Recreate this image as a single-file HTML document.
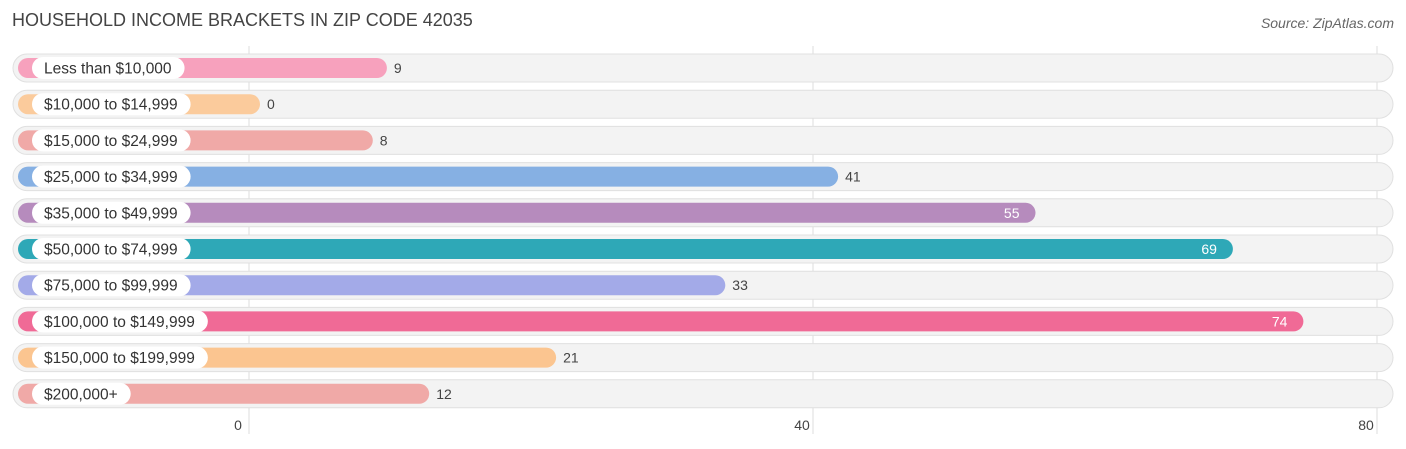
<!DOCTYPE html>
<html><head><meta charset="utf-8"><style>
body{margin:0;background:#fff;font-family:"Liberation Sans",sans-serif;}
svg{display:block}
</style></head><body>
<svg id="c" width="1406" height="449">
<text x="12" y="26" font-size="18" fill="#444">HOUSEHOLD INCOME BRACKETS IN ZIP CODE 42035</text>
<text x="1394" y="28" font-size="14" fill="#666" font-style="italic" text-anchor="end">Source: ZipAtlas.com</text>
<g id="grid"></g><g id="rows"></g>
</svg>
<script>
const categories=["Less than $10,000","$10,000 to $14,999","$15,000 to $24,999","$25,000 to $34,999","$35,000 to $49,999","$50,000 to $74,999","$75,000 to $99,999","$100,000 to $149,999","$150,000 to $199,999","$200,000+"];
const values=[9,0,8,41,55,69,33,74,21,12];
const colors=["#f7a1bd","#fbcb9c","#f0a9a7","#86b0e3","#b68bbd","#2ea8b7","#a3aae8","#f06a96","#fbc590","#f0a9a7"];
const ticks=[0,40,80];
const NS="http://www.w3.org/2000/svg";
const x=v=>249+v*14.1;
const rowY=i=>68+i*36.2;
function mk(t,a,p){const e=document.createElementNS(NS,t);for(const k in a)e.setAttribute(k,a[k]);p.appendChild(e);return e;}
const grid=document.getElementById('grid'),rows=document.getElementById('rows');
ticks.forEach(t=>{
 const l=mk('line',{x1:x(t),x2:x(t),y1:46,y2:434,stroke:'#ddd','stroke-width':1},grid);
 
 
 const tx=mk('text',{x:x(t)-11,y:430,'font-size':14,fill:'#444','text-anchor':'middle'},grid);
 tx.textContent=t;
 
 
});
categories.forEach((c,i)=>{
 const cy=rowY(i),v=values[i];
 const g=mk('g',{},rows);
 
 
 const bg=mk('rect',{x:13,y:cy-14,width:1380,height:28,rx:14,fill:'#f3f3f3',stroke:'#e0e0e0'},g);
 
 
 const end=x(v)+11;
 const b=mk('rect',{x:18,y:cy-10,width:end-18,height:20,rx:10,fill:colors[i]},g);
 
 
 const lp=mk('rect',{x:32,y:cy-11,width:100,height:22,rx:11,fill:'#fff'},g);
 
 
 const lt=mk('text',{x:44,y:cy+5.5,'font-size':15.5,fill:'#333'},g);
 lt.textContent=c;
 
 
 lp.setAttribute('width',lt.getComputedTextLength()+25);
 const inside=v>50;
 const vt=mk('text',{x:inside?end-16:end+7,y:cy+5,'font-size':14,fill:inside?'#fff':'#444','text-anchor':inside?'end':'start'},g);
 vt.textContent=v;
 
 
});
</script>
</body></html>
